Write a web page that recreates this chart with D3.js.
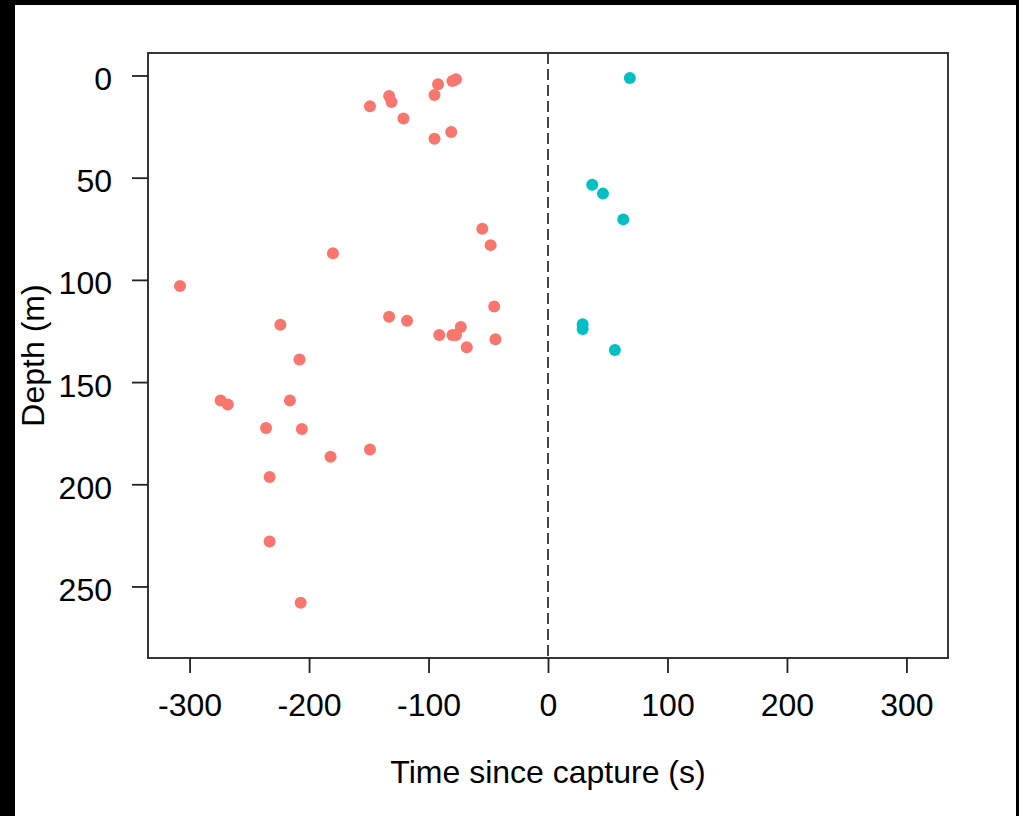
<!DOCTYPE html>
<html><head><meta charset="utf-8">
<script src="https://cdn.jsdelivr.net/npm/d3@7"></script>
<style>
html,body{margin:0;padding:0;background:#000;}
svg{display:block;}
</style></head>
<body>
<script>
// Before capture (negative time)
const beforeTime = [-149,-133,-131,-121,-95,-92,-80,-77,-81,-95,
  -55,-48,-180,-308,-45,-133,-118,-224,-73,-91,-80,-77,-44,-68,-208,
  -274,-268,-216,-236,-206,-149,-182,-233,-233,-207];
const beforeDepth = [15,10,13,21,9.5,4.3,2.7,1.9,27.6,31,
  75,83,87,103,113,118,120,122,123,127,127,127,129,133,139,
  159,161,159,172.5,173,183,186.5,196.5,228,258];
// After capture (positive time)
const afterTime = [68.5,37,46,63,29,29,56];
const afterDepth = [1.2,53.5,57.8,70.4,121.7,124,134.3];

const xTicks = [-300,-200,-100,0,100,200,300];
const yTicks = [0,50,100,150,200,250];
const xLabel = "Time since capture (s)";
const yLabel = "Depth (m)";
const colBefore = "#F8766D", colAfter = "#00BFC4";

const W = 1019, H = 816;
const svg = d3.select("body").append("svg").attr("width", W).attr("height", H);
// black frame
svg.append("rect").attr("x",0).attr("y",0).attr("width",W).attr("height",H).attr("fill","#000");
svg.append("rect").attr("x",15).attr("y",5).attr("width",W-18).attr("height",H-5).attr("fill","#fff");

const L = 148, R = 948, T = 53, B = 658;
const x = d3.scaleLinear().domain([-334.8, 334.8]).range([L, R]);
const y = d3.scaleLinear().domain([-11, 285]).range([T, B]);

const font = "'Liberation Sans', Arial, sans-serif";
const fs = 32;

// box
svg.append("rect").attr("x",L).attr("y",T).attr("width",R-L).attr("height",B-T)
  .attr("fill","none").attr("stroke","#222").attr("stroke-width",1.8);

// x axis
const xAxis = d3.axisBottom(x).tickValues(xTicks).tickSize(15).tickSizeOuter(0).tickFormat(d3.format("d"));
const gx = svg.append("g").attr("transform",`translate(0,${B})`).call(xAxis);
gx.select(".domain").remove();
gx.selectAll(".tick line").attr("stroke","#222").attr("stroke-width",1.8);
gx.selectAll(".tick text").attr("font-family",font).attr("font-size",fs).attr("fill","#000")
  .attr("y",58).attr("dy",0).text(d => d < 0 ? "-" + Math.abs(d) : String(d));

// y axis
const yAxis = d3.axisLeft(y).tickValues(yTicks).tickSize(16).tickSizeOuter(0).tickFormat(d3.format("d"));
const gy = svg.append("g").attr("transform",`translate(${L},0)`).call(yAxis);
gy.select(".domain").remove();
gy.selectAll(".tick line").attr("stroke","#222").attr("stroke-width",1.8);
gy.selectAll(".tick text").attr("font-family",font).attr("font-size",fs).attr("fill","#000")
  .attr("x",-36).attr("dy",0).attr("y",14);

// zero dashed line
svg.append("line").attr("x1",x(0)).attr("x2",x(0)).attr("y1",T).attr("y2",B)
  .attr("stroke","#333").attr("stroke-width",1.8).attr("stroke-dasharray","11,5");

// points
const before = beforeTime.map((t,i)=>({t, d: beforeDepth[i]}));
const after = afterTime.map((t,i)=>({t, d: afterDepth[i]}));
svg.append("g").selectAll("circle").data(before).join("circle")
  .attr("cx", d=>x(d.t)).attr("cy", d=>y(d.d)).attr("r",6).attr("fill",colBefore);
svg.append("g").selectAll("circle").data(after).join("circle")
  .attr("cx", d=>x(d.t)).attr("cy", d=>y(d.d)).attr("r",6).attr("fill",colAfter);

// titles
svg.append("text").attr("x",(L+R)/2).attr("y",783).attr("text-anchor","middle")
  .attr("font-family",font).attr("font-size",fs).attr("fill","#000").text(xLabel);
svg.append("text").attr("transform",`translate(44,${(T+B)/2}) rotate(-90)`).attr("text-anchor","middle")
  .attr("font-family",font).attr("font-size",fs).attr("fill","#000").text(yLabel);
</script>
</body></html>
